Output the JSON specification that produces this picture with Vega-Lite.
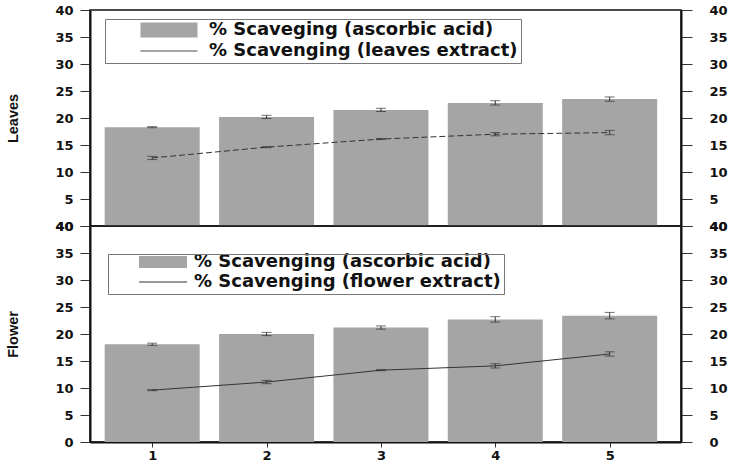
{
  "$schema": "https://vega.github.io/schema/vega-lite/v6.json",
  "padding": {"left": 5, "top": 3, "right": 5, "bottom": 0},
  "background": "white",
  "spacing": 0,
  "bounds": "flush",
  "config": {
    "view": {"stroke": "#111", "strokeWidth": 1.5},
    "axis": {
      "labelFont": "DejaVu Sans", "labelFontWeight": "bold", "labelFontSize": 13, "labelColor": "#111",
      "domainColor": "#111", "domainWidth": 2, "tickColor": "#333", "tickSize": 10, "grid": false,
      "titleFont": "Liberation Sans", "titleFontWeight": "bold", "titleFontSize": 14.5, "titleColor": "#111"
    },
    "legend": {"labelLimit": 600, "labelFont": "DejaVu Sans", "labelFontWeight": "bold", "labelColor": "#111", "orient": "none", "padding": 3, "rowPadding": 0}
  },
  "resolve": {"scale": {"fill": "independent", "stroke": "independent"}, "legend": {"fill": "independent", "stroke": "independent"}},
  "vconcat": [
    {
      "width": 591, "height": 216,
      "data": {"values": [
        {"day": 1, "acid": 18.3, "acidErr": 0.1, "ext": 12.6, "extErr": 0.3},
        {"day": 2, "acid": 20.2, "acidErr": 0.3, "ext": 14.6, "extErr": 0.1},
        {"day": 3, "acid": 21.5, "acidErr": 0.3, "ext": 16.1, "extErr": 0.1},
        {"day": 4, "acid": 22.8, "acidErr": 0.4, "ext": 17.0, "extErr": 0.3},
        {"day": 5, "acid": 23.5, "acidErr": 0.4, "ext": 17.3, "extErr": 0.4}
      ]},
      "resolve": {"axis": {"y": "independent"}},
      "layer": [
        {
          "mark": {"type": "bar", "width": 95},
          "encoding": {
            "x": {"field": "day", "type": "quantitative", "scale": {"domain": [0.5, 5.58], "nice": false, "zero": false}, "axis": null},
            "y": {"field": "acid", "type": "quantitative", "scale": {"domain": [0, 40], "nice": false},
                  "axis": {"orient": "left", "title": "Leaves", "values": [0,5,10,15,20,25,30,35,40], "labelExpr": "datum.value === 0 ? '40' : datum.label", "labelPadding": 7, "titlePadding": 34}},
            "fill": {"datum": "% Scaveging (ascorbic acid)",
              "scale": {"domain": ["% Scaveging (ascorbic acid)"], "range": ["#a5a5a5"]},
              "legend": {
                "title": null, "legendX": 15, "legendY": 8,
                "labelFontSize": 18,
                "symbolSize": 225, "symbolOffset": 52, "labelOffset": 31,
                "symbolType": "M-3.8,-1H3.8V1H-3.8Z"
              }}
          }
        },
        {
          "mark": {"type": "errorbar", "color": "#333", "ticks": {"size": 10, "thickness": 1}},
          "encoding": {
            "x": {"field": "day", "type": "quantitative", "axis": null},
            "y": {"field": "acid", "type": "quantitative", "axis": null},
            "yError": {"field": "acidErr"}
          }
        },
        {
          "mark": {"type": "line", "strokeWidth": 1, "strokeDash": [6, 3]},
          "encoding": {
            "x": {"field": "day", "type": "quantitative", "axis": null},
            "y": {"field": "ext", "type": "quantitative",
                  "axis": {"orient": "right", "title": null, "values": [0,5,10,15,20,25,30,35,40], "labelExpr": "datum.value === 0 ? '40' : datum.label", "tickSize": 11, "labelPadding": 17}},
            "stroke": {"datum": "% Scavenging (leaves extract)",
              "scale": {"domain": ["% Scavenging (leaves extract)"], "range": ["#333333"]},
              "legend": {
                "title": " ", "titleFontSize": 19, "titlePadding": 1, "legendX": 15, "legendY": 9,
                "strokeColor": "#777",
                "labelFontSize": 18,
                "symbolSize": 225, "symbolOffset": 52, "labelOffset": 31,
                "symbolType": "M-3.8,0H3.8", "symbolDash": [1, 0], "symbolStrokeWidth": 1
              }}
          }
        },
        {
          "mark": {"type": "errorbar", "color": "#333", "ticks": {"size": 10, "thickness": 1}},
          "encoding": {
            "x": {"field": "day", "type": "quantitative", "axis": null},
            "y": {"field": "ext", "type": "quantitative", "axis": null},
            "yError": {"field": "extErr"}
          }
        }
      ]
    },
    {
      "width": 591, "height": 216,
      "data": {"values": [
        {"day": 1, "acid": 18.1, "acidErr": 0.2, "ext": 9.6, "extErr": 0.1},
        {"day": 2, "acid": 20.0, "acidErr": 0.3, "ext": 11.1, "extErr": 0.3},
        {"day": 3, "acid": 21.2, "acidErr": 0.3, "ext": 13.3, "extErr": 0.1},
        {"day": 4, "acid": 22.7, "acidErr": 0.5, "ext": 14.1, "extErr": 0.4},
        {"day": 5, "acid": 23.4, "acidErr": 0.6, "ext": 16.3, "extErr": 0.4}
      ]},
      "resolve": {"axis": {"y": "independent"}},
      "layer": [
        {
          "mark": {"type": "bar", "width": 95},
          "encoding": {
            "x": {"field": "day", "type": "quantitative", "scale": {"domain": [0.5, 5.58], "nice": false, "zero": false},
                  "axis": {"title": null, "values": [1,2,3,4,5], "format": "d", "tickSize": 5, "labelPadding": 2}},
            "y": {"field": "acid", "type": "quantitative", "scale": {"domain": [0, 40], "nice": false},
                  "axis": {"orient": "left", "title": "Flower", "values": [0,5,10,15,20,25,30,35,40], "labelPadding": 7, "titlePadding": 34}},
            "fill": {"datum": "% Scavenging (ascorbic acid)",
              "scale": {"domain": ["% Scavenging (ascorbic acid)"], "range": ["#a5a5a5"]},
              "legend": {
                "title": null, "legendX": 18, "legendY": 24,
                "labelFontSize": 18,
                "symbolSize": 144, "symbolOffset": 43, "labelOffset": 22,
                "symbolType": "M-4,-1H4V1H-4Z"
              }}
          }
        },
        {
          "mark": {"type": "errorbar", "color": "#333", "ticks": {"size": 10, "thickness": 1}},
          "encoding": {
            "x": {"field": "day", "type": "quantitative"},
            "y": {"field": "acid", "type": "quantitative", "axis": null},
            "yError": {"field": "acidErr"}
          }
        },
        {
          "mark": {"type": "line", "strokeWidth": 1},
          "encoding": {
            "x": {"field": "day", "type": "quantitative"},
            "y": {"field": "ext", "type": "quantitative",
                  "axis": {"orient": "right", "title": null, "values": [0,5,10,15,20,25,30,35,40], "tickSize": 11, "labelPadding": 17}},
            "stroke": {"datum": "% Scavenging (flower extract)",
              "scale": {"domain": ["% Scavenging (flower extract)"], "range": ["#333333"]},
              "legend": {
                "title": " ", "titleFontSize": 15, "titlePadding": 1, "legendX": 18, "legendY": 28,
                "strokeColor": "#777",
                "labelFontSize": 18,
                "symbolSize": 144, "symbolOffset": 43, "labelOffset": 22,
                "symbolType": "M-4,0H4", "symbolStrokeWidth": 1
              }}
          }
        },
        {
          "mark": {"type": "errorbar", "color": "#333", "ticks": {"size": 10, "thickness": 1}},
          "encoding": {
            "x": {"field": "day", "type": "quantitative"},
            "y": {"field": "ext", "type": "quantitative", "axis": null},
            "yError": {"field": "extErr"}
          }
        }
      ]
    }
  ]
}
